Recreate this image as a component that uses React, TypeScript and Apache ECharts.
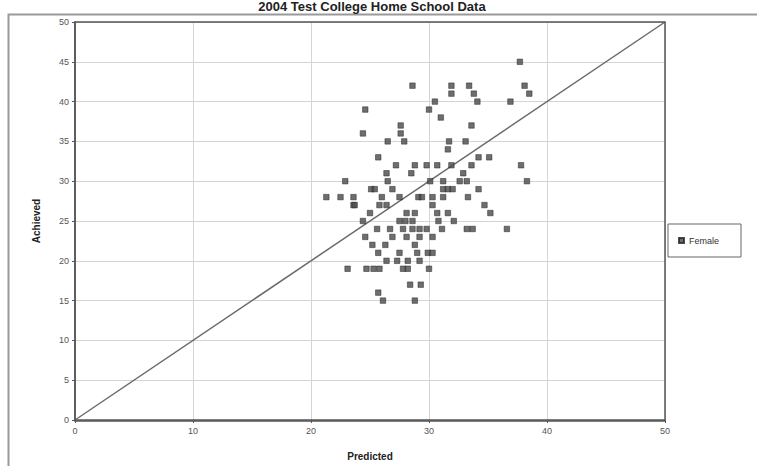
import React, { useEffect, useRef } from "react";
import * as echarts from "echarts";

const title = "2004 Test College Home School Data";
const xTicks = [0, 10, 20, 30, 40, 50];
const yTicks = [0, 5, 10, 15, 20, 25, 30, 35, 40, 45, 50];

const predicted: number[] = [
  37.7, 28.6, 31.9, 33.4, 38.1, 31.9, 33.8, 38.5, 30.5, 34.1, 36.9, 24.6, 30.0, 31.0,
  27.6, 33.6, 27.6, 24.4, 27.9, 26.5, 31.7, 33.1, 31.6, 25.7, 34.2, 35.1,
  27.2, 28.8, 29.8, 30.7, 31.9, 33.6, 37.8,
  26.4, 28.5, 32.9,
  22.9, 26.5, 30.1, 31.2, 32.6, 33.2, 38.3,
  25.1, 26.9, 31.2, 31.6, 32.0, 34.2, 25.4,
  21.3, 22.5, 23.6, 26.0, 27.5, 29.1, 29.4, 30.3, 31.2, 33.3,
  23.6, 25.8, 26.4, 30.3,
  23.7, 34.7,
  25.0, 28.1, 28.8, 30.7, 31.6, 35.2,
  24.4, 27.5, 28.0, 28.6, 30.8, 32.1,
  25.6, 26.7, 27.8, 28.6, 29.2, 29.8, 31.1, 33.2, 33.7, 36.6,
  24.6, 26.9, 28.1, 29.2, 30.3,
  25.2, 26.3, 28.8,
  25.7, 27.5, 29.0, 29.9, 30.3,
  26.4, 27.3, 28.2, 29.2,
  23.1, 24.7, 25.3, 25.8, 27.8, 28.2, 30.0,
  28.4, 29.3,
  25.7,
  26.1, 28.8,
];

const achieved: number[] = [
  45, 42, 42, 42, 42, 41, 41, 41, 40, 40, 40, 39, 39, 38,
  37, 37, 36, 36, 35, 35, 35, 35, 34, 33, 33, 33,
  32, 32, 32, 32, 32, 32, 32,
  31, 31, 31,
  30, 30, 30, 30, 30, 30, 30,
  29, 29, 29, 29, 29, 29, 29,
  28, 28, 28, 28, 28, 28, 28, 28, 28, 28,
  27, 27, 27, 27,
  27, 27,
  26, 26, 26, 26, 26, 26,
  25, 25, 25, 25, 25, 25,
  24, 24, 24, 24, 24, 24, 24, 24, 24, 24,
  23, 23, 23, 23, 23,
  22, 22, 22,
  21, 21, 21, 21, 21,
  20, 20, 20, 20,
  19, 19, 19, 19, 19, 19, 19,
  17, 17,
  16,
  15, 15,
];

const diagonal = [
  [0, 0],
  [50, 50],
];

export default function App() {
  const ref = useRef<HTMLDivElement>(null);
  useEffect(() => {
    if (!ref.current) return;
    const chart = echarts.init(ref.current, undefined, { renderer: "svg" });
    const points = predicted.map((p, i) => [p, achieved[i]]);
    chart.setOption({
      animation: false,
      backgroundColor: "#ffffff",
      textStyle: { fontFamily: "Liberation Sans, Arial, sans-serif" },
      title: {
        text: title,
        left: 372,
        textAlign: "center",
        top: 0,
        padding: 0,
        textStyle: { fontSize: 13, fontWeight: "bold", color: "#222" },
      },
      graphic: [
        {
          type: "rect",
          shape: { x: 8.5, y: 14.5, width: 760, height: 470 },
          style: { fill: "none", stroke: "#9a9a9a", lineWidth: 2 },
          silent: true,
        },
        {
          type: "rect",
          shape: { x: 75, y: 22, width: 590, height: 399 },
          style: { fill: "none", stroke: "#555", lineWidth: 1.5 },
          silent: true,
          z: 10,
        },
      ],
      legend: {
        data: ["Female"],
        left: 668,
        top: 224,
        orient: "vertical",
        borderColor: "#666",
        borderWidth: 1,
        padding: [12, 22, 12, 10],
        itemWidth: 5,
        itemHeight: 5,
        itemGap: 4,
        textStyle: { fontSize: 9, color: "#333" },
      },
      grid: { left: 75, right: 92, top: 22, bottom: 45 },
      xAxis: {
        type: "value",
        min: 0,
        max: 50,
        interval: 10,
        name: "Predicted",
        nameLocation: "middle",
        nameGap: 31,
        nameTextStyle: { fontSize: 10, fontWeight: "bold", color: "#222" },
        axisLine: { show: true, lineStyle: { color: "#555", width: 1.5 } },
        axisTick: { show: true, length: 3, lineStyle: { color: "#555" } },
        axisLabel: { fontSize: 9, color: "#555", margin: 6 },
        splitLine: { show: true, lineStyle: { color: "#d4d4d4", width: 1 } },
      },
      yAxis: {
        type: "value",
        min: 0,
        max: 50,
        interval: 5,
        name: "Achieved",
        nameLocation: "middle",
        nameGap: 34,
        nameRotate: 90,
        nameTextStyle: { fontSize: 10, fontWeight: "bold", color: "#222" },
        axisLine: { show: true, lineStyle: { color: "#555", width: 1.5 } },
        axisTick: { show: true, length: 3, lineStyle: { color: "#555" } },
        axisLabel: { fontSize: 9, color: "#555", margin: 6 },
        splitLine: { show: true, lineStyle: { color: "#d4d4d4", width: 1 } },
      },
      series: [
        {
          type: "line",
          name: "Diagonal",
          data: diagonal,
          symbol: "none",
          lineStyle: { color: "#6a6a6a", width: 1.5 },
          silent: true,
          z: 1,
        },
        {
          type: "scatter",
          name: "Female",
          data: points,
          symbol: "rect",
          symbolSize: 5.5,
          itemStyle: { color: "#4a4a4a", borderColor: "#222", borderWidth: 0.6 },
          z: 3,
        },
      ],
    });
    return () => chart.dispose();
  }, []);
  return (
    <div
      ref={ref}
      style={{ position: "fixed", left: 0, top: 0, width: 757, height: 466 }}
    />
  );
}
